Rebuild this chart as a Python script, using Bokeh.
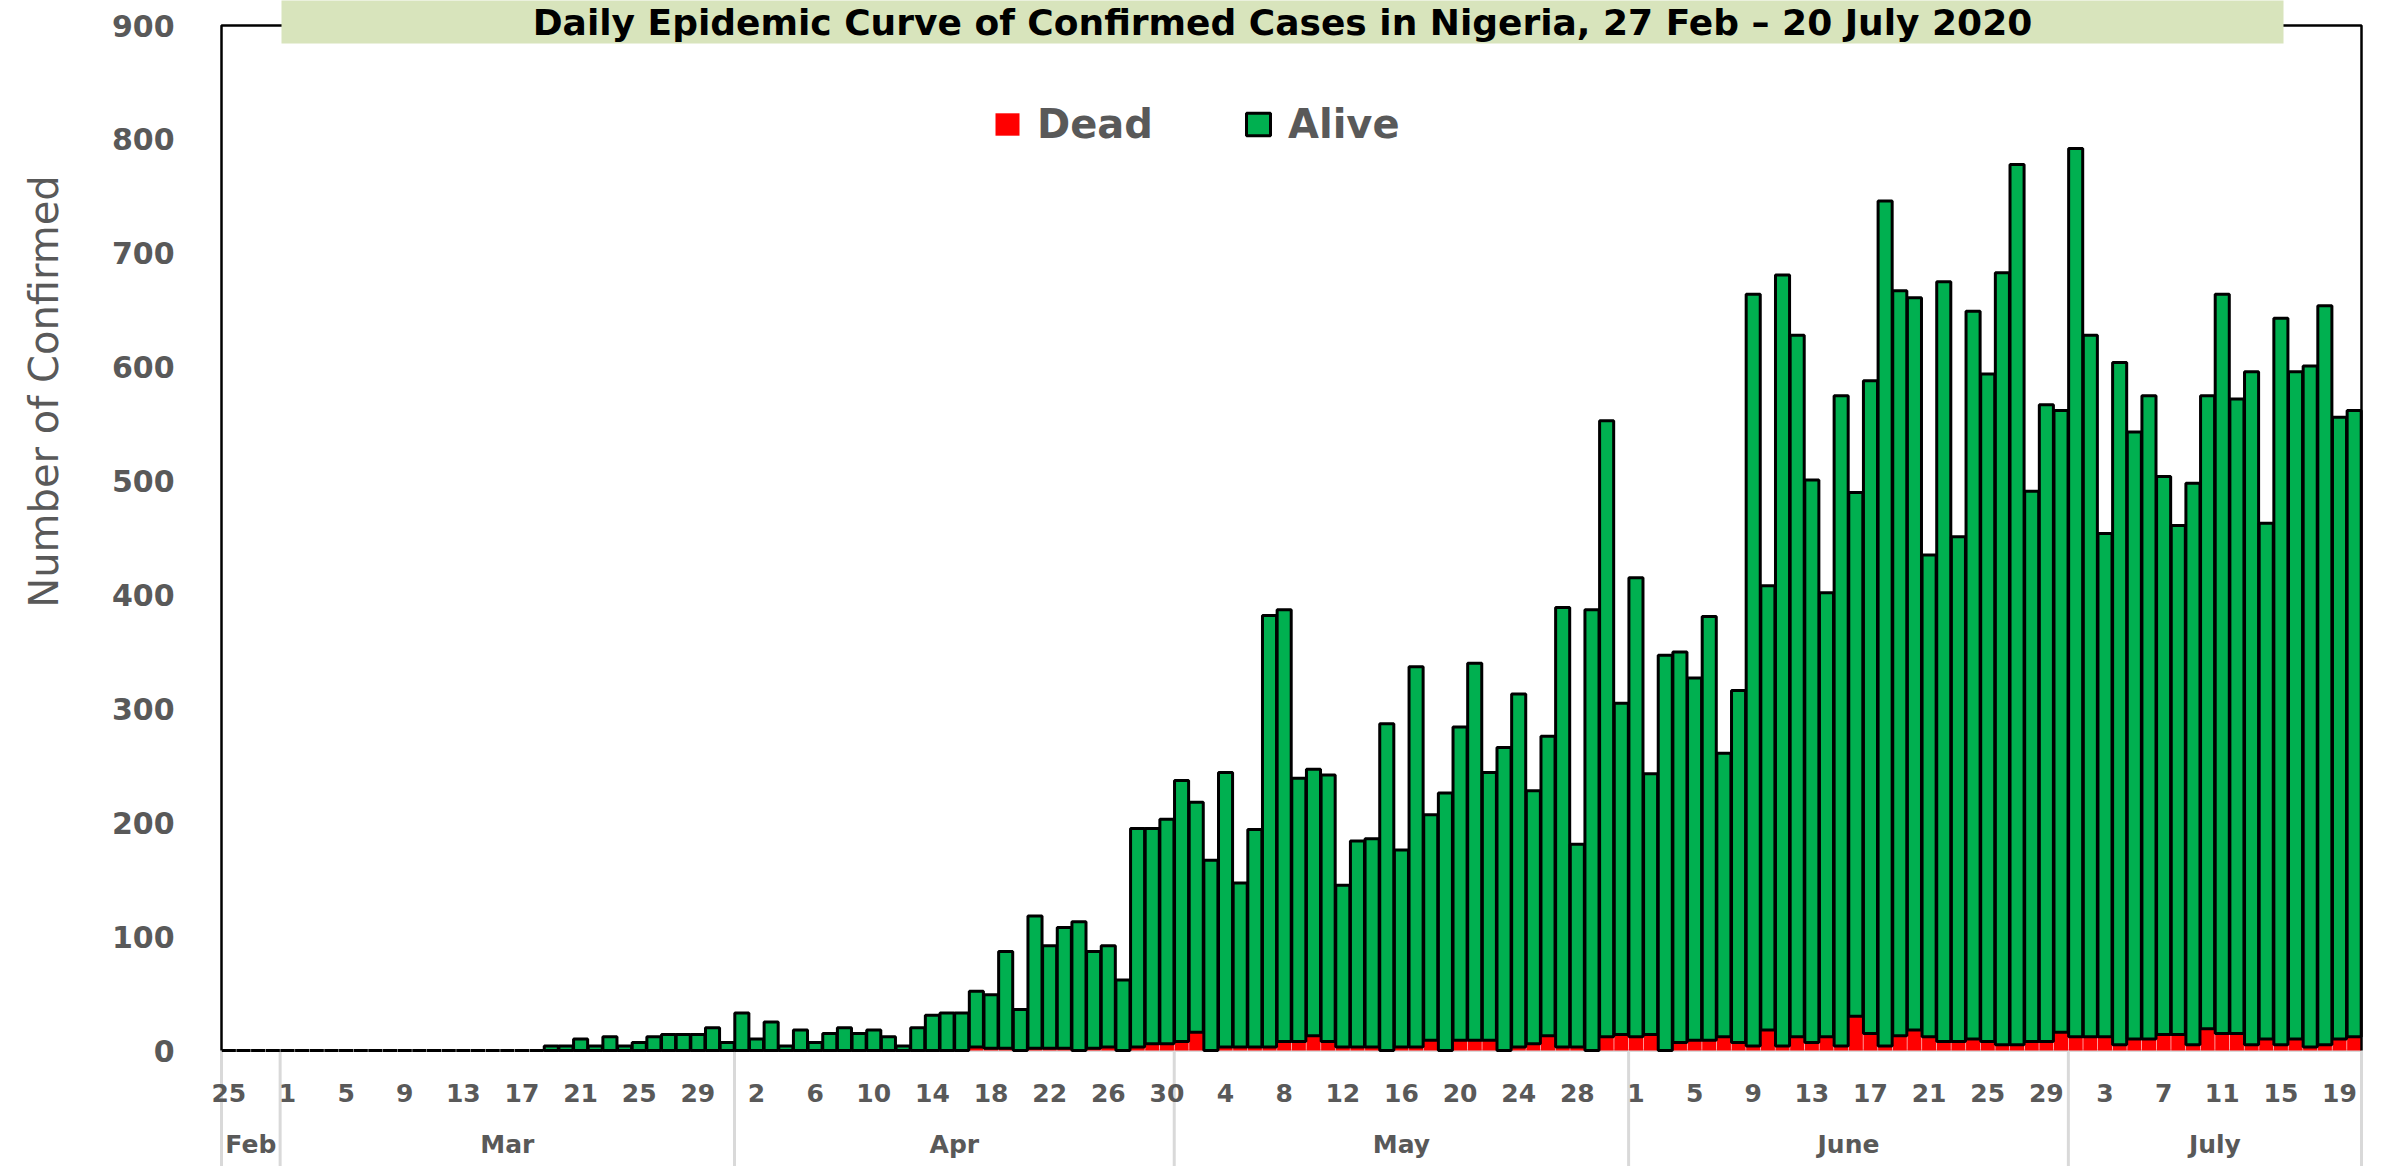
from math import pi
from bokeh.plotting import figure
from bokeh.models import ColumnDataSource, Range1d, Legend, LegendItem
from bokeh.core.properties import value
from bokeh.embed import file_html
from bokeh.resources import INLINE

# ---------------- data ----------------
title = "Daily Epidemic Curve of Confirmed Cases in Nigeria, 27 Feb \u2013 20 July 2020"
y_title = "Number of Confirmed"
months = ["Feb", "Mar", "Apr", "May", "June", "July"]
month_days = {
    "Feb": [25, 26, 27, 28],
    "Mar": list(range(1, 32)),
    "Apr": list(range(1, 31)),
    "May": list(range(1, 32)),
    "June": list(range(1, 31)),
    "July": list(range(1, 21)),
}

feb_confirmed = [0, 0, 0, 0]
feb_dead = [0, 0, 0, 0]
mar_confirmed = [0, 0, 0, 0, 0, 0, 0, 0, 0, 0, 0, 0, 0, 0, 0, 0, 0, 0,
                 4, 4, 10, 4, 12, 4, 7, 12, 14, 14, 14, 20, 7]
mar_dead = [0, 0, 0, 0, 0, 0, 0, 0, 0, 0, 0, 0, 0, 0, 0, 0, 0, 0,
            0, 0, 0, 0, 0, 0, 0, 0, 0, 0, 0, 0, 0]
apr_confirmed = [33, 10, 25, 4, 18, 7, 15, 20, 15, 18,
                 12, 4, 20, 31, 33, 33, 52, 49, 87, 36,
                 118, 92, 108, 113, 87, 92, 62, 195, 195, 203]
apr_dead = [0, 0, 0, 0, 0, 0, 0, 0, 0, 0,
            0, 0, 0, 0, 0, 0, 3, 2, 2, 0,
            2, 2, 2, 0, 2, 3, 0, 3, 6, 6]
may_confirmed = [237, 218, 167, 244, 147, 194, 382, 387, 239, 247,
                 242, 145, 184, 186, 287, 176, 337, 207, 226, 284,
                 340, 244, 266, 313, 228, 276, 389, 181, 387, 553, 305]
may_dead = [8, 16, 0, 3, 3, 3, 3, 8, 8, 13,
            8, 3, 3, 3, 0, 3, 3, 9, 0, 9,
            9, 9, 0, 3, 6, 13, 3, 3, 0, 12, 14]
jun_confirmed = [415, 243, 347, 350, 327, 381, 261, 316, 664, 408,
                 681, 628, 501, 402, 575, 490, 588, 746, 667, 661,
                 435, 675, 451, 649, 594, 683, 778, 491, 567, 562]
jun_dead = [12, 14, 0, 7, 9, 9, 12, 7, 4, 18,
            4, 12, 7, 12, 4, 30, 15, 4, 13, 18,
            12, 8, 8, 10, 8, 5, 5, 8, 8, 16]
jul_confirmed = [792, 628, 454, 604, 543, 575, 504, 461, 498, 575,
                 664, 572, 596, 463, 643, 596, 601, 654, 556, 562]
jul_dead = [12, 12, 12, 5, 10, 10, 14, 14, 5, 19,
            15, 15, 5, 10, 5, 10, 3, 5, 10, 12]

y_ticks = [0, 100, 200, 300, 400, 500, 600, 700, 800, 900]
tick_every = 4

confirmed = feb_confirmed + mar_confirmed + apr_confirmed + may_confirmed + jun_confirmed + jul_confirmed
dead = feb_dead + mar_dead + apr_dead + may_dead + jun_dead + jul_dead
alive = [c - d for c, d in zip(confirmed, dead)]

dates, day_nums = [], []
for m in months:
    for d in month_days[m]:
        dates.append(f"{d} {m}")
        day_nums.append(d)
N = len(dates)
xpos = [i + 0.5 for i in range(N)]        # category centres (one unit per day)

tick_x = xpos[::tick_every]
tick_text = [str(d) for d in day_nums[::tick_every]]

bounds = [0]
for m in months:
    bounds.append(bounds[-1] + len(month_days[m]))
month_centers = [(a + b) / 2 for a, b in zip(bounds[:-1], bounds[1:])]

# ---------------- layout (pixels) ----------------
W, H = 2400, 1166
FL, FR = 221, 2361          # plot-area left / right
Z = 1050                    # pixel row of value 0
K = 1025 / 900              # px per case
PX = (FR - FL) / N          # px per day

def dx(px):
    return (px - FL) / PX

def dy(py):
    return (Z - py) / K

GREY = "#595959"
FONT = value("DejaVu Sans")

p = figure(width=W, height=H,
           x_range=Range1d(dx(0), dx(W)), y_range=Range1d(dy(H), dy(0)),
           output_backend="svg", toolbar_location=None,
           x_axis_location=None, y_axis_location=None,
           min_border_left=0, min_border_right=0, min_border_top=0, min_border_bottom=0)
p.outline_line_color = None
p.xgrid.visible = False
p.ygrid.visible = False
p.background_fill_color = "white"

# grey category axis line + month separators
p.segment(x0=0, y0=0, x1=N, y1=0, line_color="#D9D9D9", line_width=3)
p.segment(x0=bounds, y0=[0] * len(bounds), x1=bounds, y1=[dy(H)] * len(bounds),
          line_color="#D9D9D9", line_width=3)

# bars
src = ColumnDataSource(dict(x=xpos, date=dates, Dead=dead, Alive=alive))
rs = p.vbar_stack(["Dead", "Alive"], x="x", width=0.96, source=src,
                  fill_color=["#FF0000", "#00B050"], line_color="black", line_width=3)
rs[0].glyph.line_color = None
rs[0].glyph.line_width = 0

# plot-area border (left, top, right)
p.line(x=[0, 0, N, N], y=[0, 900, 900, 0], line_color="black", line_width=2.5)

# y tick labels
p.text(x=[dx(174)] * len(y_ticks), y=y_ticks, text=[str(t) for t in y_ticks],
       text_font=FONT, text_font_style="bold", text_font_size="30px", text_color=GREY,
       text_align="right", text_baseline="middle")

# y axis title
p.text(x=[dx(43)], y=[dy(391)], text=[y_title], angle=pi / 2,
       text_font=FONT, text_font_size="40px", text_color=GREY,
       text_align="center", text_baseline="middle")

# day tick labels and month labels
p.text(x=tick_x, y=[dy(1092)] * len(tick_x), text=tick_text, text_font=FONT,
       text_font_style="bold", text_font_size="25px", text_color=GREY,
       text_align="center", text_baseline="middle")
p.text(x=month_centers, y=[dy(1144)] * len(months), text=months, text_font=FONT,
       text_font_style="bold", text_font_size="25px", text_color=GREY,
       text_align="center", text_baseline="middle")

# title box
bl, br = dx(281), dx(2283)
p.quad(left=bl, right=br, bottom=dy(43), top=dy(0) + 20,
       fill_color="#D8E4BC", line_color=None)
p.text(x=[(bl + br) / 2], y=[dy(22)], text=[title], text_font=FONT,
       text_font_style="bold", text_font_size="36px", text_color="black",
       text_align="center", text_baseline="middle")

legend = Legend(items=[LegendItem(label="Dead", renderers=[rs[0]]),
                       LegendItem(label="Alive", renderers=[rs[1]])],
                orientation="horizontal", location=(992, H - 147),
                glyph_width=30, glyph_height=28, label_standoff=15, spacing=90,
                padding=0, margin=0, border_line_color=None, background_fill_alpha=0,
                label_text_font="DejaVu Sans", label_text_font_style="bold",
                label_text_font_size="40px", label_text_color=GREY)
p.add_layout(legend)

open("out.html", "w").write(file_html(p, INLINE))
